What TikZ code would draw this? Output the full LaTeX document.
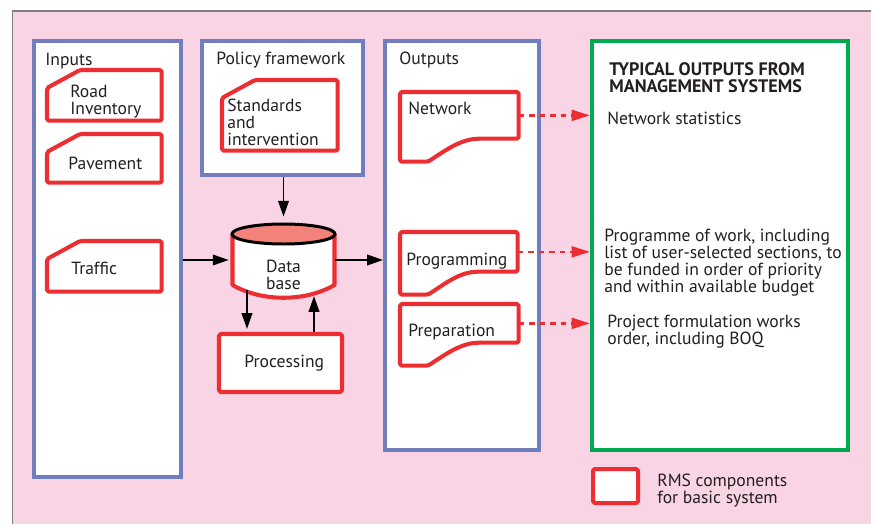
\documentclass[tikz,border=0pt]{standalone}
\usepackage{fontspec}
\setmainfont{PT Sans}
\usetikzlibrary{calc,arrows.meta}

\definecolor{bgpink}{RGB}{248,212,228}
\definecolor{panelblue}{RGB}{112,126,190}
\definecolor{rmsred}{RGB}{236,45,50}
\definecolor{outgreen}{RGB}{0,170,80}
\definecolor{dbsalmon}{RGB}{242,130,122}
\definecolor{ink}{RGB}{35,31,32}

\newcommand*{\px}{0.02cm}
\newcommand*{\cutx}{33}
\newcommand*{\cuty}{18}
\newcommand*{\tail}{23}

\begin{document}
\begin{tikzpicture}
[
	x=0.02cm, y=-0.02cm,
	font=\fontsize{10}{9.6}\selectfont, text=ink,
	panel/.style={rectangle,draw=panelblue,line width=2.3pt,fill=white,anchor=north west,inner sep=0pt},
	outpanel/.style={panel,draw=outgreen},
	hold/.style={rectangle,anchor=north west,inner sep=0pt},
	rmsline/.style={draw=rmsred,line width=2.3pt,fill=white,line join=round},
	rmsbox/.style={rectangle,rmsline,rounded corners=1pt,inner sep=0pt},
	lbl/.style={anchor=base west,inner sep=0pt,align=left},
	arr/.style={-{Triangle[length=9pt,width=6pt]},line width=1.1pt,black},
	dasharr/.style={-{Triangle[length=10.5pt,width=6.2pt]},line width=1.4pt,rmsred,dash pattern=on 3pt off 3pt}
]

	% background
	\useasboundingbox (0,0) rectangle (871,524);
	\fill[white] (0,0) rectangle (871,524);
	\fill[bgpink] (12.5,11) rectangle (871,524);
	\draw[gray,line width=0.8pt] (12.5,524) -- (12.5,11) -- (871,11);

	% panels
	\node[panel,minimum width=147*\px,minimum height=436*\px] (inputs) at (32,39) {};
	\node[panel,minimum width=161*\px,minimum height=134*\px] (policy) at (200,39) {};
	\node[panel,minimum width=154*\px,minimum height=409*\px] (outputs) at (383,39) {};
	\node[outpanel,minimum width=256*\px,minimum height=409*\px] (green) at (590,39) {};

	% input cards
	\node[hold,minimum width=114*\px,minimum height=50*\px] (road) at (47,70) {};
	\node[hold,minimum width=114*\px,minimum height=48*\px] (pave) at (47,134) {};
	\node[hold,minimum width=114*\px,minimum height=50*\px] (traffic) at (47,241) {};
	\node[hold,minimum width=115*\px,minimum height=70*\px] (stand) at (222,80) {};
	\foreach \n in {road,pave,traffic,stand}
		\draw[rmsline,rounded corners=1pt] ($(\n.north west)+(0,\cuty)$) -- ($(\n.north west)+(\cutx,0)$)
			-- (\n.north east) -- (\n.south east) -- (\n.south west) -- cycle;

	% output documents
	\node[hold,minimum width=118*\px,minimum height=46*\px] (net) at (400,92) {};
	\node[hold,minimum width=117*\px,minimum height=39*\px] (prog) at (400,232) {};
	\node[hold,minimum width=118*\px,minimum height=38*\px] (prep) at (400,304) {};
	\foreach \n in {net,prog,prep}
		\draw[rmsline,rounded corners=1pt] (\n.north west) -- (\n.north east) -- (\n.south east)
			-- ($(\n.south east)+(-38,0)$) .. controls ($(\n.south east)+(-58,0)$) and ($(\n.south west)+(45,12)$)
			.. ($(\n.south west)+(28,\tail)$) -- ($(\n.south west)+(0,\tail)$) -- cycle;

	% data base
	\node[minimum width=103*\px,minimum height=72*\px,inner sep=0pt] (db) at (283.5,260) {};
	\draw[rmsline] (232.5,234) -- (232.5,285) .. controls (262,302) and (305,302) .. (334.5,285) -- (334.5,234);
	\draw[black,line width=1.7pt,fill=dbsalmon] (283.5,234) ellipse [x radius=51.5,y radius=10];
	\node[align=center,anchor=base,inner sep=0pt] at (283.5,289) {Data\\base};

	% processing and legend
	\node[rmsbox,minimum width=123*\px,minimum height=58*\px] (proc) at (280.5,363) {\hspace*{0.15cm}Processing};
	\node[rmsbox,anchor=north west,minimum width=45*\px,minimum height=34*\px] (legend) at (591,467) {};
	\coordinate (dbl) at (247,290);
	\coordinate (dbr) at (314,296);

	% arrows
	\draw[arr,shorten >=3*\px] (inputs.east |- db.west) -- (db.west);
	\draw[arr] (db.east) -- (outputs.west |- db.east);
	\draw[arr,shorten >=7*\px] (policy.south -| db.north) -- (db.north);
	\draw[arr,shorten >=3*\px] (dbl) -- (dbl |- proc.north);
	\draw[arr] (proc.north -| dbr) -- (dbr);
	\foreach \n in {net,prog,prep}
		\draw[dasharr] (\n.east) -- (\n.east -| green.west);

	% labels
	\node[lbl] at (45,65) {Inputs};
	\node[lbl] at (216,64) {Policy framework};
	\node[lbl] at (399,64) {Outputs};
	\node[lbl] at (70,114) {Road\\Inventory};
	\node[lbl] at (68,169) {Pavement};
	\node[lbl] at (71,274) {Traffic};
	\node[lbl] at (227,145) {Standards\\and\\intervention};
	\node[lbl] at (408,114) {Network};
	\node[lbl] at (406,265) {Programming};
	\node[lbl] at (408,336) {Preparation};
	\node[lbl,font=\fontsize{10.3}{9.3}\selectfont\bfseries] at (609,92) {TYPICAL OUTPUTS FROM\\MANAGEMENT SYSTEMS};
	\node[lbl] at (607,124) {Network statistics};
	\node[lbl] at (604,292) {Programme of work, including\\list of user-selected sections, to\\be funded in order of priority\\and within available budget};
	\node[lbl] at (607,344) {Project formulation works\\order, including BOQ};
	\node[lbl] at (657,503) {RMS components\\for basic system};

\end{tikzpicture}
\end{document}
